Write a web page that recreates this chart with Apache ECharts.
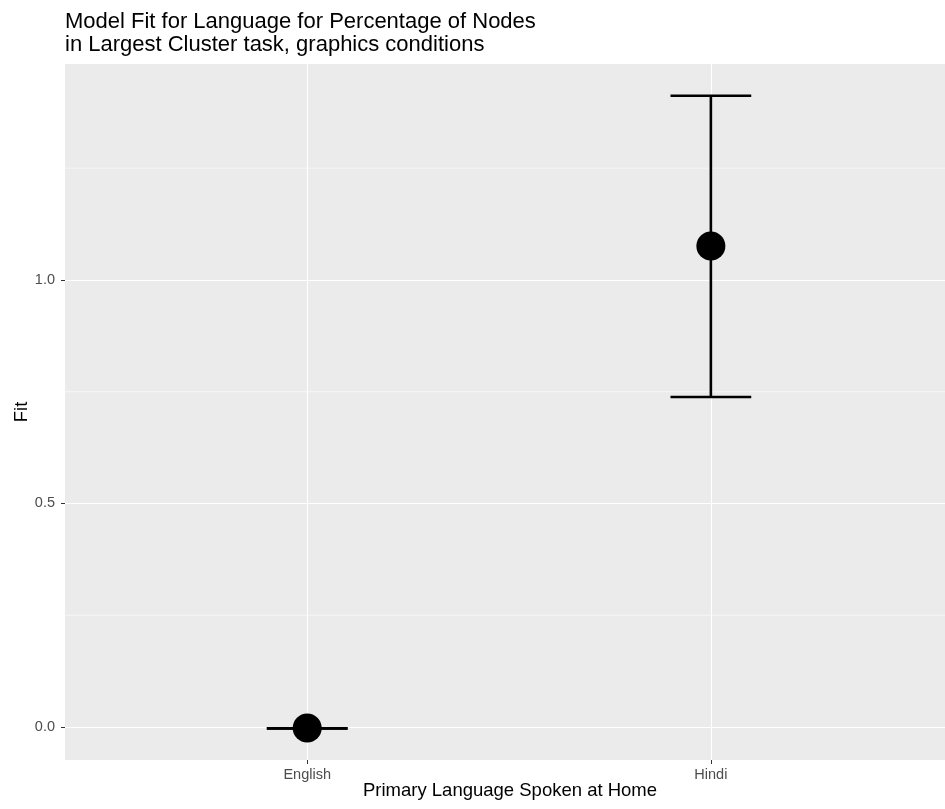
<!DOCTYPE html>
<html>
<head>
<meta charset="utf-8">
<script src="https://cdn.jsdelivr.net/npm/echarts@6/dist/echarts.min.js"></script>
<style>
html,body{margin:0;padding:0;background:#fff;}
#main{width:945px;height:809px;}
</style>
</head>
<body>
<div id="main"></div>
<script>
// Data
const categories = ["English", "Hindi"];
const fitValues = [-0.002, 1.076];
const lowerValues = [-0.003, 0.738];
const upperValues = [-0.003, 1.412];
const yTickValues = [0, 0.5, 1.0];
const yMinorGrid = [0.25, 0.75, 1.25];
const xTickValues = [1, 2];

const chart = echarts.init(document.getElementById('main'));
const FONT = '"Liberation Sans", Arial, Helvetica, sans-serif';

const points = categories.map((c, i) => [i + 1, fitValues[i]]);
const bars = categories.map((c, i) => [i + 1, lowerValues[i], upperValues[i]]);
const minorRows = yMinorGrid.map(v => [1, v]);

chart.setOption({
  animation: false,
  backgroundColor: '#ffffff',
  title: {
    text: 'Model Fit for Language for Percentage of Nodes\nin Largest Cluster task, graphics conditions',
    left: 65, top: 11, padding: 0,
    textStyle: { fontFamily: FONT, fontSize: 22, fontWeight: 'normal', color: '#000', lineHeight: 22.5 }
  },
  grid: {
    left: 65, top: 64, right: 0, bottom: 49,
    show: true, backgroundColor: '#EBEBEB', borderWidth: 0, containLabel: false,
    outerBoundsMode: 'none'
  },
  xAxis: {
    type: 'value', min: 0.4, max: 2.58,
    axisLine: { show: false, onZero: false },
    axisTick: { show: true, customValues: xTickValues, length: 4, lineStyle: { color: '#333', width: 1 } },
    axisLabel: {
      customValues: xTickValues, margin: 7,
      formatter: v => categories[Math.round(v) - 1] || '',
      fontFamily: FONT, fontSize: 14.5, color: '#4d4d4d'
    },
    splitLine: { show: true, lineStyle: { color: '#ffffff', width: 1.1 } },
    name: 'Primary Language Spoken at Home', nameLocation: 'middle', nameGap: 21.5, nameMoveOverlap: false,
    nameTextStyle: { fontFamily: FONT, fontSize: 18.5, color: '#000', padding: [0, 0, 0, 10] }
  },
  yAxis: {
    type: 'value', min: -0.0738, max: 1.483,
    axisLine: { show: false, onZero: false },
    axisTick: { show: true, customValues: yTickValues, length: 4, lineStyle: { color: '#333', width: 1 } },
    axisLabel: {
      customValues: yTickValues, margin: 10,
      formatter: v => v.toFixed(1),
      fontFamily: FONT, fontSize: 14.5, color: '#4d4d4d'
    },
    splitLine: { show: true, lineStyle: { color: '#ffffff', width: 1.1 } },
    name: 'Fit', nameLocation: 'middle', nameGap: 34, nameRotate: 90, nameMoveOverlap: false,
    nameTextStyle: { fontFamily: FONT, fontSize: 18.5, color: '#000' }
  },
  series: [
    {
      type: 'custom', z: 1, silent: true,
      data: minorRows,
      renderItem: function (params, api) {
        const cs = params.coordSys;
        const p = api.coord([api.value(0), api.value(1)]);
        return {
          type: 'line',
          shape: { x1: cs.x, y1: p[1], x2: cs.x + cs.width, y2: p[1] },
          style: { stroke: '#ffffff', lineWidth: 0.55 }
        };
      }
    },
    {
      type: 'custom', z: 10, silent: true,
      data: bars,
      renderItem: function (params, api) {
        const x = api.value(0);
        const lo = api.coord([x, api.value(1)]);
        const hi = api.coord([x, api.value(2)]);
        const l = api.coord([x - 0.1, api.value(1)]);
        const r = api.coord([x + 0.1, api.value(1)]);
        const hw = (r[0] - l[0]) / 2;
        const style = { stroke: '#000', lineWidth: 2.6, fill: null };
        return {
          type: 'group',
          children: [
            { type: 'line', shape: { x1: lo[0], y1: lo[1], x2: hi[0], y2: hi[1] }, style },
            { type: 'line', shape: { x1: lo[0] - hw, y1: lo[1], x2: lo[0] + hw, y2: lo[1] }, style },
            { type: 'line', shape: { x1: hi[0] - hw, y1: hi[1], x2: hi[0] + hw, y2: hi[1] }, style }
          ]
        };
      }
    },
    {
      type: 'scatter', z: 11, silent: true,
      data: points, symbol: 'circle', symbolSize: 29,
      itemStyle: { color: '#000', opacity: 1 }
    }
  ]
});
</script>
</body>
</html>
